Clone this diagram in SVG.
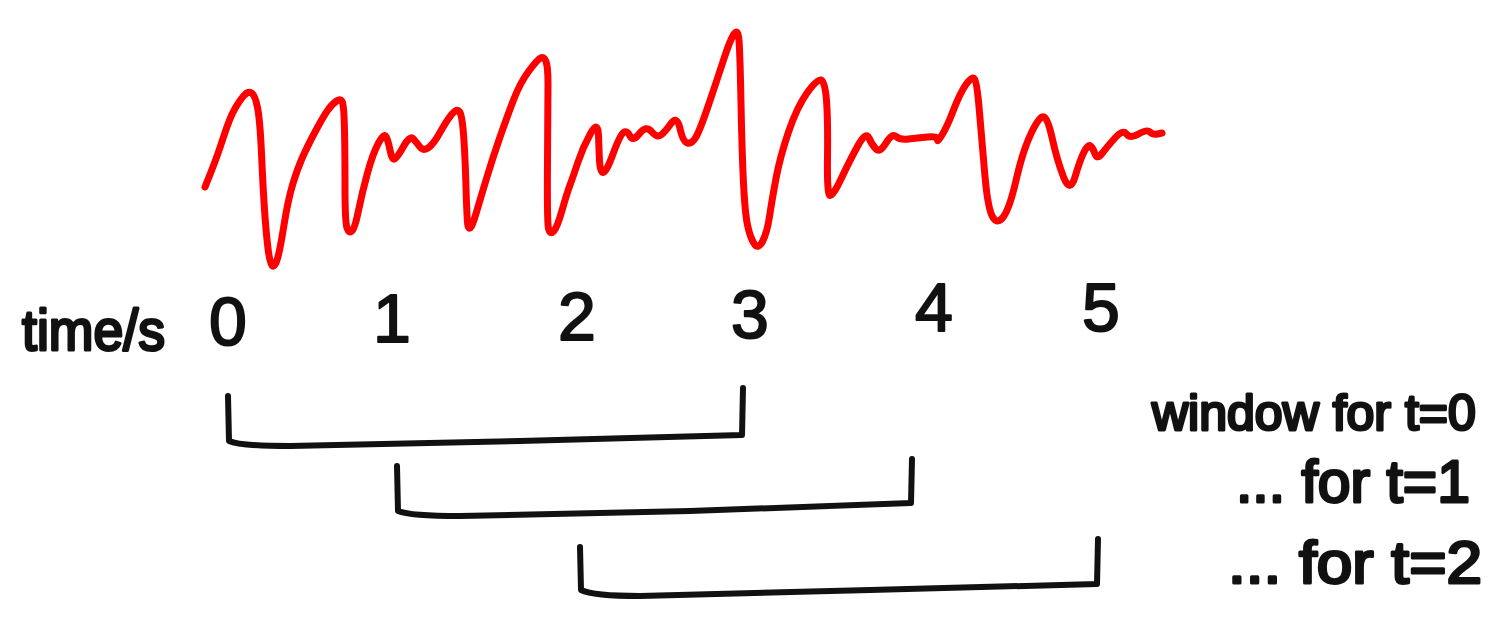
<svg xmlns="http://www.w3.org/2000/svg" width="1500" height="626" viewBox="0 0 1500 626">
<style>
.wave{fill:none;stroke:#ff0000;stroke-width:7;stroke-linecap:round;stroke-linejoin:round}
.br{fill:none;stroke:#111;stroke-width:6;stroke-linecap:round;stroke-linejoin:round}
.t{font-family:"Liberation Sans",Arial,sans-serif;fill:#111;stroke:#111;stroke-width:2;stroke-linejoin:round}
.d{font-size:68px;text-anchor:middle}
.lab{stroke-width:3}
</style>
<rect width="1500" height="626" fill="#fff"/>
<g id="signal">
<path class="wave" d="M205,187 L211,172 Q217,157 223.5,137 Q230,117 235,108.5 Q240,100 244,95.5 Q248,91 251.5,93 Q255,95 257.5,107.5 Q260,120 261.5,153.5 Q263,187 264.5,209.5 Q266,232 268,248.5 Q270,265 272.5,266 Q275,267 277.5,258.5 Q280,250 284,225 Q288,200 292.5,185 Q297,170 302,158.5 Q307,147 315,132 Q323,117 327.5,110.5 Q332,104 336.5,101 Q341,98 342.5,102.5 Q344,107 344.5,130 Q345,153 345,187.5 Q345,222 347,228 Q349,234 352,231 Q355,228 358.5,210.5 Q362,193 367.5,173 Q373,153 378.5,143 Q384,133 386,136.5 Q388,140 390,150 Q392,160 394.5,159 Q397,158 403.5,146.5 Q410,135 413.5,139 Q417,143 420,147 Q423,151 428,148 Q433,145 440,132.5 Q447,120 452,114 Q457,108 459.5,111.5 Q462,115 463.5,134 Q465,153 466,187.5 Q467,222 468,226 Q469,230 471,227 Q473,224 476.5,212 Q480,200 486.5,178.5 Q493,157 500,137 Q507,117 513.5,100 Q520,83 528.5,71.5 Q537,60 540.5,58 Q544,56 546,61.5 Q548,67 548,83.5 Q548,100 547.5,161 Q547,222 548.5,228.5 Q550,235 553.5,231.5 Q557,228 562,210.5 Q567,193 570,185 Q573,177 578,162 Q583,147 590.5,133.5 Q598,120 598.5,135 Q599,150 599.5,161 Q600,172 603,172.5 Q606,173 613,154 Q620,135 623.5,132.5 Q627,130 630,136 Q633,142 639.5,133.5 Q646,125 651.5,131.5 Q657,138 661,135 Q665,132 671,123.5 Q677,115 680,128.5 Q683,142 687.5,143 Q692,144 696,137 Q700,130 708.5,105 Q717,80 723.5,60 Q730,40 734,34 Q738,28 739,40.5 Q740,53 741,103 Q742,153 743.5,183 Q745,213 747.5,225 Q750,237 754,243.5 Q758,250 762.5,241.5 Q767,233 769.5,216.5 Q772,200 776,178.5 Q780,157 788.5,132 Q797,107 807,93 Q817,79 821,80 Q825,81 826.5,100.5 Q828,120 827.5,157.5 Q827,195 830,195.5 Q833,196 841.5,178 Q850,160 858,145.5 Q866,131 869,138 Q872,145 876,149 Q880,153 886,143 Q892,133 896,136.5 Q900,140 908.5,139 Q917,138 927.5,137 Q938,136 937.5,139.5 Q937,143 942,135 Q947,127 953.5,110 Q960,93 966,84.5 Q972,76 974.5,79 Q977,82 979.5,112.5 Q982,143 985,176.5 Q988,210 993,217.5 Q998,225 1004,216 Q1010,207 1016.5,178.5 Q1023,150 1031.5,132.5 Q1040,115 1044,117 Q1048,119 1052.5,139.5 Q1057,160 1063.5,177 Q1070,194 1075,177 Q1080,160 1084,152 Q1088,144 1090.5,146 Q1093,148 1095,154 Q1097,160 1102,153.5 Q1107,147 1115,138 Q1123,129 1126.5,134 Q1130,139 1138.5,134 Q1147,129 1150,132 Q1153,135 1157.5,134 L1162,133"/>
</g>
<g id="axis">
<text class="t lab" x="22" y="350" font-size="58" textLength="143" lengthAdjust="spacingAndGlyphs">time/s</text>
<text class="t d" x="228" y="345">0</text>
<text class="t d" x="392" y="342">1</text>
<text class="t d" x="577" y="340">2</text>
<text class="t d" x="750" y="338">3</text>
<text class="t d" x="934" y="331">4</text>
<text class="t d" x="1101" y="331">5</text>
</g>
<g id="windows">
<path class="br" d="M228,396 L229,441 Q240,446 290,446 L520,441 L742,435 L743,388"/>
<path class="br" d="M397,466 L398,511 Q410,516 460,516 L690,511 L911,503 L912,459"/>
<path class="br" d="M580,547 L581,590 Q593,596 640,596 L870,590 L1097,584 L1098,539"/>
</g>
<g id="labels">
<text class="t lab" x="1152" y="430" font-size="50">window for t=0</text>
<text class="t lab" x="1236" y="502" font-size="60" textLength="234" lengthAdjust="spacingAndGlyphs">... for t=1</text>
<text class="t lab" x="1228" y="583" font-size="60" textLength="254" lengthAdjust="spacingAndGlyphs">... for t=2</text>
</g>
</svg>
